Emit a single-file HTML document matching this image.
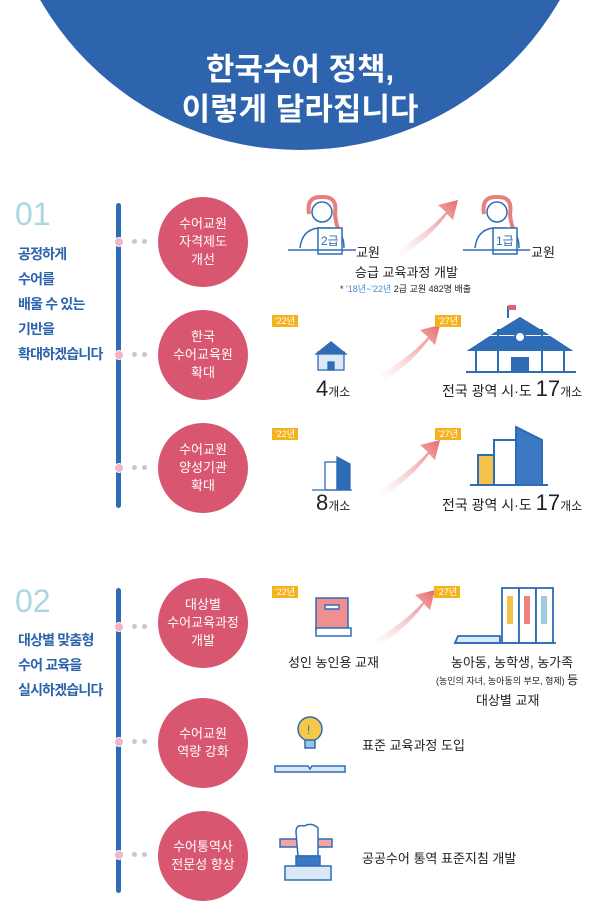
<!DOCTYPE html>
<html><head><meta charset="utf-8"><style>
body{margin:0;width:600px;height:911px;background:#fff;position:relative;overflow:hidden;font-family:"Liberation Sans","Noto Sans CJK KR",sans-serif}
.a{position:absolute}
.c{position:absolute;width:90px;height:90px;border-radius:50%;background:#d8566f;color:#fff;font-size:13px;line-height:18px;text-align:center;display:flex;align-items:center;justify-content:center}
.bar{position:absolute;left:116px;width:5px;background:#2e6cb5;border-radius:3px}
.pd{position:absolute;left:114px;width:8px;height:8px;border-radius:50%;background:#f3b5c6;border:1px solid #fff}
.gd{position:absolute;width:5px;height:5px;border-radius:50%;background:#c8c8c8}
.lt{position:absolute;left:18px;color:#2b63ad;font-weight:bold;font-size:14px;letter-spacing:-0.8px;line-height:25px}
.num{position:absolute;left:15px;color:#a9d6e2;font-size:32px}
.tag{position:absolute;background:#f5b21c;color:#fff;font-size:9px;padding:0 3px;line-height:12px}
.t{position:absolute;font-size:13px;color:#222;white-space:nowrap}
</style></head><body>
<div class="a" style="left:0;top:-450px;width:600px;height:600px;border-radius:50%;background:#2e64ad"></div>
<div class="a" style="left:0;top:50px;width:600px;text-align:center;color:#fff;font-weight:bold;font-size:31px;line-height:40px">한국수어 정책,<br>이렇게 달라집니다</div>

<div class="num" style="top:196px">01</div>
<div class="lt" style="top:242px">공정하게<br>수어를<br>배울 수 있는<br>기반을<br>확대하겠습니다</div>
<div class="bar" style="top:203px;height:305px"></div>
<div class="pd" style="top:237px"></div><div class="pd" style="top:350px"></div><div class="pd" style="top:463px"></div>
<div class="gd" style="left:132px;top:239px"></div><div class="gd" style="left:142px;top:239px"></div>
<div class="gd" style="left:132px;top:352px"></div><div class="gd" style="left:142px;top:352px"></div>
<div class="gd" style="left:132px;top:465px"></div><div class="gd" style="left:142px;top:465px"></div>
<div class="c" style="left:158px;top:197px">수어교원<br>자격제도<br>개선</div>
<div class="c" style="left:158px;top:310px">한국<br>수어교육원<br>확대</div>
<div class="c" style="left:158px;top:423px">수어교원<br>양성기관<br>확대</div>

<div class="num" style="top:583px">02</div>
<div class="lt" style="top:628px">대상별 맞춤형<br>수어 교육을<br>실시하겠습니다</div>
<div class="bar" style="top:588px;height:305px"></div>
<div class="pd" style="top:622px"></div><div class="pd" style="top:737px"></div><div class="pd" style="top:850px"></div>
<div class="gd" style="left:132px;top:624px"></div><div class="gd" style="left:142px;top:624px"></div>
<div class="gd" style="left:132px;top:739px"></div><div class="gd" style="left:142px;top:739px"></div>
<div class="gd" style="left:132px;top:852px"></div><div class="gd" style="left:142px;top:852px"></div>
<div class="c" style="left:158px;top:578px">대상별<br>수어교육과정<br>개발</div>
<div class="c" style="left:158px;top:698px">수어교원<br>역량 강화</div>
<div class="c" style="left:158px;top:811px">수어통역사<br>전문성 향상</div>

<svg class="a" style="left:0;top:0" width="600" height="911">
<defs><linearGradient id="g" x1="0" y1="1" x2="1" y2="0"><stop offset="0" stop-color="#f4b9b9" stop-opacity="0"/><stop offset="1" stop-color="#e66a6a"/></linearGradient></defs>
<g fill="url(#g)">
<path d="M398 250 Q430 230 446 212 L438 205 L458 200 L453 220 L447 214 Q432 236 402 256Z"/>
<path d="M380 375 Q412 355 428 337 L420 330 L440 325 L435 345 L429 339 Q414 361 384 381Z"/>
<path d="M380 490 Q412 470 428 452 L420 445 L440 440 L435 460 L429 454 Q414 476 384 496Z"/>
<path d="M375 640 Q407 620 423 602 L415 595 L435 590 L430 610 L424 604 Q409 626 379 646Z"/>
</g>
<g stroke="#2e6cb5" stroke-width="1.5" fill="none">
<path d="M309 214 Q306 196 322 197 Q338 196 335 214 Q336 226 340 232" stroke="#e87f7f" stroke-width="4"/><circle cx="322" cy="212" r="10" fill="#fff"/>
<path d="M300 248 Q302 230 318 228 L330 228 Q344 230 344 248"/><rect x="318" y="228" width="24" height="26" fill="#fff"/><line x1="288" y1="250" x2="356" y2="250"/>
<path d="M484 214 Q481 196 497 197 Q513 196 510 214 Q511 226 515 232" stroke="#e87f7f" stroke-width="4"/><circle cx="497" cy="212" r="10" fill="#fff"/>
<path d="M475 248 Q477 230 493 228 L505 228 Q519 230 519 248"/><rect x="493" y="228" width="24" height="26" fill="#fff"/><line x1="463" y1="250" x2="530" y2="250"/>
</g>
<text x="321" y="245" font-size="12" fill="#2e6cb5" font-family="Liberation Sans,Noto Sans CJK KR,sans-serif">2급</text>
<text x="496" y="245" font-size="12" fill="#2e6cb5" font-family="Liberation Sans,Noto Sans CJK KR,sans-serif">1급</text>
<g stroke="#2e6cb5" stroke-width="1.3" fill="#dbe8f6"><rect x="318" y="352" width="26" height="18"/><path d="M316 354 L331 342 L346 354Z" fill="#2e6cb5"/><rect x="328" y="362" width="6" height="8" fill="#2e6cb5"/></g>
<g stroke="#2e6cb5" stroke-width="2" fill="#fff"><rect x="476" y="348" width="88" height="24"/><rect x="498" y="330" width="44" height="42"/><path d="M470 350 L490 337 L550 337 L570 350Z" fill="#2e6cb5"/><path d="M494 334 L520 318 L546 334Z" fill="#2e6cb5"/><circle cx="520" cy="337" r="5"/><rect x="512" y="358" width="16" height="14" fill="#2e6cb5"/><line x1="466" y1="372" x2="576" y2="372"/><line x1="508" y1="318" x2="508" y2="306"/></g>
<rect x="508" y="305" width="8" height="5" fill="#e0607a"/>
<g stroke="#2e6cb5" stroke-width="1.3"><rect x="325" y="462" width="12" height="28" fill="#fff"/><path d="M337 490 L337 457 L350 464 L350 490Z" fill="#2e6cb5"/><line x1="312" y1="490" x2="352" y2="490"/></g>
<g stroke="#2e6cb5" stroke-width="2"><rect x="478" y="455" width="20" height="30" fill="#f3c24a"/><rect x="494" y="440" width="22" height="45" fill="#fff"/><path d="M516 485 L516 427 L542 440 L542 485Z" fill="#3a78c4"/><line x1="470" y1="485" x2="548" y2="485"/></g>
<g stroke="#2e6cb5" stroke-width="1.5"><rect x="316" y="598" width="32" height="32" fill="#ef8f8f"/><rect x="316" y="628" width="35" height="8" fill="#fff"/><rect x="325" y="605" width="14" height="4" fill="#fff"/></g>
<g stroke="#2e6cb5" stroke-width="1.8" fill="#fff"><rect x="502" y="588" width="17" height="55"/><rect x="519" y="588" width="17" height="55"/><rect x="536" y="588" width="17" height="55"/><path d="M455 643 L500 643 L500 636 L458 636Z" fill="#dbe8f6"/><line x1="454" y1="643" x2="556" y2="643"/></g>
<rect x="507" y="596" width="6" height="28" fill="#f3c24a"/><rect x="524" y="596" width="6" height="28" fill="#ef8080"/><rect x="541" y="596" width="6" height="28" fill="#9fcbe0"/>
<g stroke="#2e6cb5" stroke-width="1.5"><circle cx="310" cy="729" r="12" fill="#f6c84a"/><rect x="305" y="740" width="10" height="8" fill="#9fc1e6"/><path d="M275 772 L345 772 L345 766 L312 766 L310 769 L308 766 L275 766Z" fill="#dbe8f6"/></g>
<text x="307" y="734" font-size="12" fill="#2e6cb5">!</text>
<g stroke="#2e6cb5" stroke-width="1.5"><rect x="280" y="839" width="52" height="8" fill="#f3a4a4"/><path d="M296 832 Q296 824 304 826 Q312 822 318 828 L318 856 L298 856Z" fill="#fff"/><rect x="296" y="856" width="24" height="10" fill="#3a78c4"/><rect x="285" y="866" width="46" height="14" fill="#dbe8f6"/></g>
</svg>

<div class="t" style="left:356px;top:242px">교원</div>
<div class="t" style="left:531px;top:242px">교원</div>
<div class="t" style="left:355px;top:262px">승급 교육과정 개발</div>
<div class="t" style="left:340px;top:282px;font-size:9px">* <span style="color:#4a8ad0">'18년~'22년</span> 2급 교원 482명 배출</div>

<div class="tag" style="left:272px;top:315px">'22년</div><div class="tag" style="left:435px;top:315px">'27년</div>
<div class="t" style="left:316px;top:376px;font-size:22px">4<span style="font-size:12px">개소</span></div>
<div class="t" style="left:442px;top:376px;font-size:14px">전국 광역 시·도 <span style="font-size:22px">17</span><span style="font-size:12px">개소</span></div>
<div class="tag" style="left:272px;top:428px">'22년</div><div class="tag" style="left:435px;top:428px">'27년</div>
<div class="t" style="left:316px;top:490px;font-size:22px">8<span style="font-size:12px">개소</span></div>
<div class="t" style="left:442px;top:490px;font-size:14px">전국 광역 시·도 <span style="font-size:22px">17</span><span style="font-size:12px">개소</span></div>

<div class="tag" style="left:272px;top:586px">'22년</div><div class="tag" style="left:434px;top:586px">'27년</div>
<div class="t" style="left:288px;top:652px">성인 농인용 교재</div>
<div class="t" style="left:451px;top:652px">농아동, 농학생, 농가족</div>
<div class="t" style="left:436px;top:671px;font-size:9px">(농인의 자녀, 농아동의 부모, 형제) <span style="font-size:12px">등</span></div>
<div class="t" style="left:476px;top:690px">대상별 교재</div>
<div class="t" style="left:362px;top:735px">표준 교육과정 도입</div>
<div class="t" style="left:362px;top:848px">공공수어 통역 표준지침 개발</div>
</body></html>
